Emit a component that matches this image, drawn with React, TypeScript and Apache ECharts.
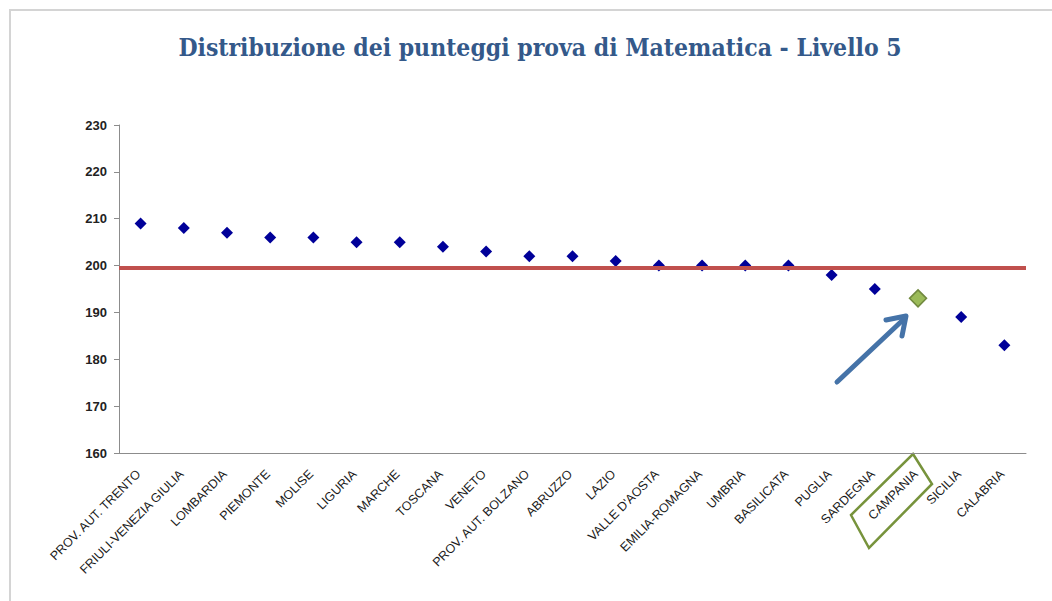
import { useEffect, useRef } from "react";
import * as echarts from "echarts";

const categories = [
  "PROV. AUT. TRENTO",
  "FRIULI-VENEZIA GIULIA",
  "LOMBARDIA",
  "PIEMONTE",
  "MOLISE",
  "LIGURIA",
  "MARCHE",
  "TOSCANA",
  "VENETO",
  "PROV. AUT. BOLZANO",
  "ABRUZZO",
  "LAZIO",
  "VALLE D'AOSTA",
  "EMILIA-ROMAGNA",
  "UMBRIA",
  "BASILICATA",
  "PUGLIA",
  "SARDEGNA",
  "CAMPANIA",
  "SICILIA",
  "CALABRIA",
];
const scores = [209, 208, 207, 206, 206, 205, 205, 204, 203, 202, 202, 201, 200, 200, 200, 200, 198, 195, 193, 189, 183];
const highlighted = "CAMPANIA";
const average = 199.5;
const yTicks = { min: 160, max: 230, interval: 10 };
const titleText = "Distribuzione dei punteggi prova di Matematica - Livello 5";

export default function App() {
  const ref = useRef<HTMLDivElement>(null);
  useEffect(() => {
    const chart = echarts.init(ref.current!, null, { renderer: "svg" });
    const data = scores.map((v, i) =>
      categories[i] === highlighted
        ? {
            value: v,
            symbolSize: 17,
            itemStyle: { color: "#9BBB59", borderColor: "#71893F", borderWidth: 1.5, opacity: 1 },
          }
        : v
    );
    chart.setOption({
      animation: false,
      backgroundColor: "#ffffff",
      title: {
        text: titleText,
        left: 535,
        top: 30,
        textAlign: "center",
        textStyle: {
          fontFamily: "DejaVu Serif Condensed",
          fontWeight: "bold",
          fontSize: 24.5,
          color: "#34598A",
        },
      },
      grid: { left: 119, right: 26, top: 125, bottom: 148, containLabel: false },
      xAxis: {
        type: "category",
        data: categories,
        boundaryGap: true,
        axisLine: { show: true, lineStyle: { color: "#8c8c8c", width: 1 } },
        axisTick: { show: false },
        axisLabel: {
          interval: 0,
          rotate: 45,
          margin: 17,
          padding: [0, 3, 0, 0],
          fontFamily: "Liberation Sans",
          fontSize: 12.5,
          color: "#1a1a1a",
        },
        splitLine: { show: false },
      },
      yAxis: {
        type: "value",
        min: yTicks.min,
        max: yTicks.max,
        interval: yTicks.interval,
        axisLine: { show: true, lineStyle: { color: "#8c8c8c", width: 1 } },
        axisTick: { show: true, length: 5, lineStyle: { color: "#8c8c8c" } },
        axisLabel: {
          margin: 12,
          fontFamily: "Liberation Sans",
          fontWeight: "bold",
          fontSize: 13,
          color: "#222222",
        },
        splitLine: { show: false },
      },
      series: [
        {
          type: "line",
          data: [],
          silent: true,
          markLine: {
            silent: true,
            symbol: ["none", "none"],
            label: { show: false },
            lineStyle: { color: "#C0504D", width: 4, type: "solid", opacity: 1 },
            data: [{ yAxis: average }],
          },
        },
        {
          type: "scatter",
          data,
          symbol: "diamond",
          symbolSize: 12,
          itemStyle: { color: "#000099", opacity: 1 },
          z: 3,
        },
      ],
      graphic: [
        {
          type: "rect",
          shape: { x: 10, y: 10, width: 1100, height: 700 },
          style: { fill: "none", stroke: "#d4d4d4", lineWidth: 2 },
          silent: true,
        },
        {
          type: "polygon",
          shape: { points: [[913, 454], [932, 484], [869, 548], [851, 515]] },
          style: { fill: "none", stroke: "#77933C", lineWidth: 2.5 },
          silent: true,
        },
        {
          type: "line",
          shape: { x1: 837, y1: 382, x2: 905, y2: 318 },
          style: { stroke: "#4573A8", lineWidth: 5, lineCap: "round" },
          silent: true,
        },
        {
          type: "polyline",
          shape: { points: [[886, 320], [906, 316], [902, 336]] },
          style: { fill: "none", stroke: "#4573A8", lineWidth: 5, lineCap: "round", lineJoin: "round" },
          silent: true,
        },
      ],
    });
    return () => chart.dispose();
  }, []);
  return (
    <div
      ref={ref}
      style={{ position: "absolute", left: 0, top: 0, width: 1052, height: 601 }}
    />
  );
}
